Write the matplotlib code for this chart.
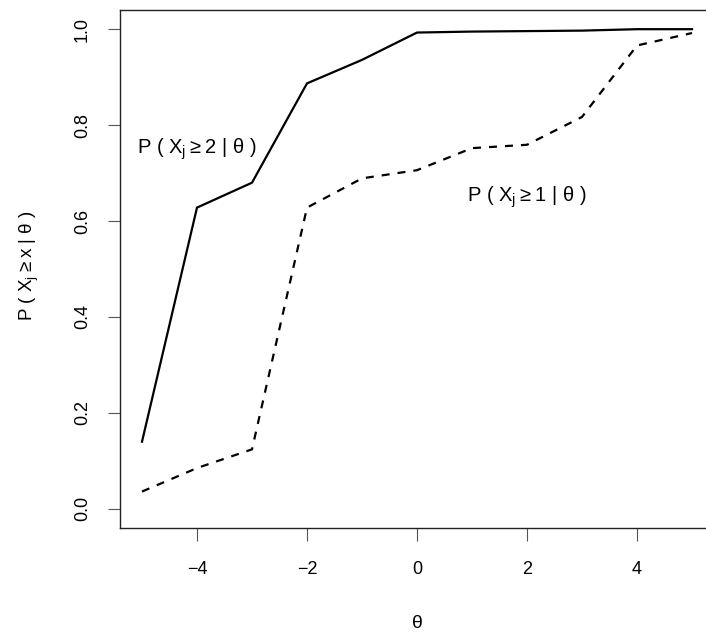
import numpy as np
import matplotlib
matplotlib.use("Agg")
import matplotlib.pyplot as plt

plt.rcParams['font.family'] = ['Liberation Sans', 'DejaVu Sans']
plt.rcParams['mathtext.fontset'] = 'custom'
plt.rcParams['mathtext.rm'] = 'Liberation Sans'
plt.rcParams['mathtext.it'] = 'Liberation Sans'

theta = [-5, -4, -3, -2, -1, 0, 1, 2, 3, 4, 5]
p_ge2 = [0.14, 0.628, 0.68, 0.887, 0.936, 0.993, 0.995, 0.996, 0.997, 1.0, 1.0]
p_ge1 = [0.036, 0.085, 0.124, 0.628, 0.689, 0.706, 0.752, 0.759, 0.817, 0.966, 0.992]

xticks = [-4, -2, 0, 2, 4]
yticks = [0.0, 0.2, 0.4, 0.6, 0.8, 1.0]

W, H = 706, 633
fig = plt.figure(figsize=(W / 100, H / 100), dpi=100)
ax = fig.add_axes([120 / W, 1 - 528 / H, 594 / W, 518 / H])

ax.plot(theta, p_ge2, color='black', lw=1.6)
ax.plot(theta, p_ge1, color='black', lw=1.6, ls=(0, (3.6, 3.6)))

ts = "\u2009"
lab2 = "P ( X$_\\mathregular{j}$" + ts + "≥" + ts + "2 | θ )"
lab1 = "P ( X$_\\mathregular{j}$" + ts + "≥" + ts + "1 | θ )"
ylab = "P ( X$_\\mathregular{j}$" + ts + "≥" + ts + "x | θ )"

ax.text(-4, 0.75, lab2, ha='center', va='center', fontsize=14.5)
ax.text(2, 0.65, lab1, ha='center', va='center', fontsize=14.5)

ax.set_xlim(-5.4, 5.4)
ax.set_ylim(-0.04, 1.04)
ax.set_xticks(xticks)
ax.set_xticklabels(["\u22124", "\u22122", "0", "2", "4"])
ax.set_yticks(yticks)
ax.set_yticklabels(["0.0", "0.2", "0.4", "0.6", "0.8", "1.0"], rotation=90, va='center')
ax.tick_params(axis='both', labelsize=13, length=9, width=0.8, color='#555555')
ax.tick_params(axis='x', pad=15)
ax.tick_params(axis='y', pad=12)
for s in ax.spines.values():
    s.set_linewidth(1.0)
    s.set_color('#222222')

fig.text(29 / W, 1 - 266 / H, ylab, rotation=90,
         ha='center', va='center', fontsize=13.5)
fig.text(417 / W, 1 - 624 / H, "θ", ha='center', va='center', fontsize=14)

fig.savefig("out.png", dpi=100)
